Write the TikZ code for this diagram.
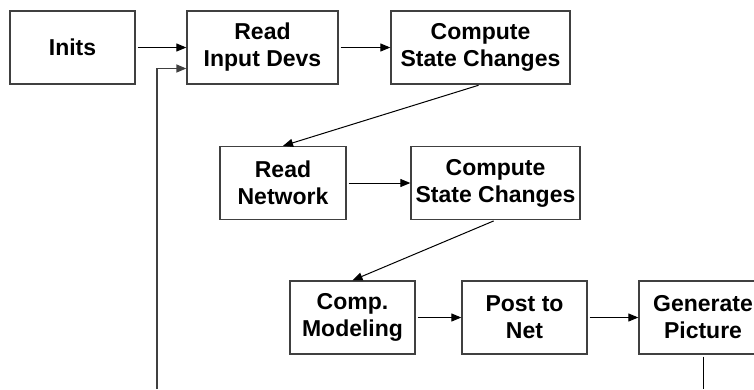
\documentclass[tikz,border=0pt]{standalone}
\usepackage{fontspec}
\setmainfont{Liberation Sans}
\usetikzlibrary{arrows.meta}

\begin{document}
\begin{tikzpicture}[x=1pt,y=-1pt,
  blk/.style={draw=black!75, line width=1.3pt, align=center, inner sep=0pt,
    minimum height=73pt, font=\fontsize{23}{27}\selectfont\bfseries},
  arr/.style={-{Triangle[length=10pt,width=8pt]}, line width=1pt, shorten <=2pt}]

 \useasboundingbox (0,0) rectangle (754,389);

 \node[blk, minimum width=125pt] (inits) at (72.5,47.5) {Inits};
 \node[blk, minimum width=151pt] (readin) at (262.5,47.5) {Read\\Input Devs};
 \node[blk, minimum width=179pt] (comp1) at (480.5,47.5) {Compute\\State Changes};

 \node[blk, minimum width=126pt] (readnet) at (283,183) {Read\\Network};
 \node[blk, minimum width=169pt] (comp2) at (495.5,183) {Compute\\State Changes};

 \node[blk, minimum width=125pt] (compmod) at (352.5,317.5) {Comp.\\Modeling};
 \node[blk, minimum width=125pt] (post) at (524.5,317.5) {Post to\\Net};
 \node[blk, minimum width=128pt] (gen) at (703,317.5) {Generate\\Picture};

 \draw[arr] (inits) -- (readin);
 \draw[arr] (readin) -- (comp1);
 \draw[arr] (comp1.south) -- (readnet.north);
 \draw[arr] (readnet) -- (comp2);
 \draw[arr] (comp2.south) -- (compmod.north);
 \draw[arr] (compmod) -- (post);
 \draw[arr] (post) -- (gen);

 % loop back to the input stage
 \coordinate (loopR) at (703,389);
 \coordinate (loopL) at (157,389);
 \draw[line width=1pt, shorten <=2pt] (gen.south) -- (loopR);
 \draw[arr, draw=black!75, line width=1.3pt, shorten <=0pt] (loopL) |- ([yshift=-21pt]readin.west);

\end{tikzpicture}
\end{document}
